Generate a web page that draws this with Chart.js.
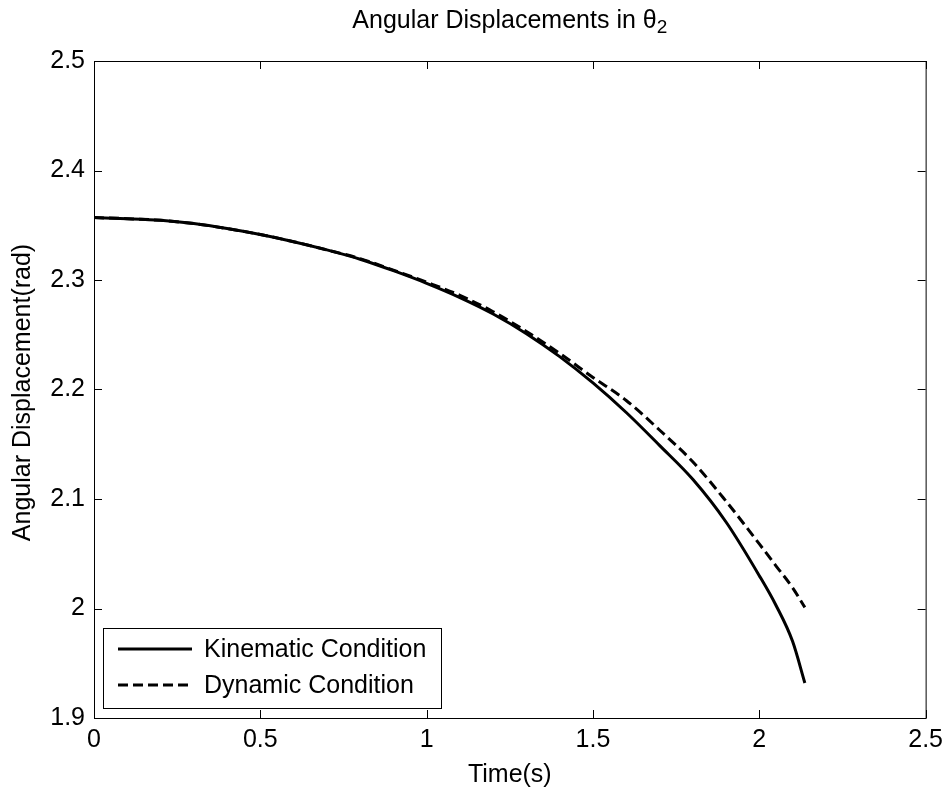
<!DOCTYPE html>
<html>
<head>
<meta charset="utf-8">
<script src="https://cdn.jsdelivr.net/npm/chart.js@4"></script>
<style>
  html, body { margin: 0; padding: 0; background: #fff; }
  #wrap { width: 950px; height: 792px; }
</style>
</head>
<body>
<div id="wrap"><canvas id="chart" width="950" height="792"></canvas></div>
<script>
// data ----------------------------------------------------------------------/
const time       = [0, 0.1, 0.2, 0.3, 0.4, 0.5, 0.6, 0.7, 0.8, 0.9, 1.0, 1.1, 1.2, 1.3, 1.4, 1.5, 1.6, 1.7, 1.8, 1.9, 2.0, 2.05, 2.1, 2.137];
const kinematic  = [2.357, 2.356, 2.3545, 2.3515, 2.347, 2.3415, 2.335, 2.3275, 2.319, 2.3085, 2.297, 2.284, 2.269, 2.251, 2.230, 2.206, 2.179, 2.149, 2.118, 2.079, 2.030, 2.003, 1.970, 1.932];
const dynamic    = [2.357, 2.356, 2.3545, 2.3515, 2.347, 2.3415, 2.335, 2.3275, 2.3195, 2.309, 2.298, 2.286, 2.271, 2.253, 2.233, 2.211, 2.190, 2.163, 2.134, 2.098, 2.059, 2.039, 2.019, 2.001];
const seriesNames = ['Kinematic Condition', 'Dynamic Condition'];
const xTicks = [0, 0.5, 1, 1.5, 2, 2.5];
const yTicks = [1.9, 2.0, 2.1, 2.2, 2.3, 2.4, 2.5];

const FONT = '"Liberation Sans", Arial, sans-serif';

function toPoints(xs, ys) {
	return xs.map(function (x, i) { return { x: x, y: ys[i] }; });
}

// axes box, inward ticks, title, axis labels and legend drawn the MATLAB way
const matlabFrame = {
	id: 'matlabFrame',
	afterDatasetsDraw(chart) {
		const ctx = chart.ctx;
		const a = chart.chartArea;
		const xs = chart.scales.x;
		const ys = chart.scales.y;
		const tl = 8;

		ctx.save();
		ctx.strokeStyle = '#000';
		ctx.lineWidth = 1;
		ctx.strokeRect(a.left + 0.5, a.top + 0.5, a.right - a.left, a.bottom - a.top);

		ctx.beginPath();
		xTicks.forEach(function (v) {
			const px = Math.round(xs.getPixelForValue(v)) + 0.5;
			ctx.moveTo(px, a.bottom); ctx.lineTo(px, a.bottom - tl);
			ctx.moveTo(px, a.top); ctx.lineTo(px, a.top + tl);
		});
		yTicks.forEach(function (v) {
			const py = Math.round(ys.getPixelForValue(v)) + 0.5;
			ctx.moveTo(a.left, py); ctx.lineTo(a.left + tl, py);
			ctx.moveTo(a.right, py); ctx.lineTo(a.right - tl, py);
		});
		ctx.stroke();

		// title with subscript
		ctx.fillStyle = '#000';
		ctx.textBaseline = 'alphabetic';
		const main = 'Angular Displacements in \u03B8';
		ctx.font = '25px ' + FONT;
		const w1 = ctx.measureText(main).width;
		ctx.font = '19px ' + FONT;
		const w2 = ctx.measureText('2').width;
		const cx = (a.left + a.right) / 2;
		const tx = cx - (w1 + w2) / 2;
		ctx.font = '25px ' + FONT;
		ctx.textAlign = 'left';
		ctx.fillText(main, tx, 28);
		ctx.font = '19px ' + FONT;
		ctx.fillText('2', tx + w1, 33);

		// y axis label
		ctx.save();
		ctx.translate(30, (a.top + a.bottom) / 2 + 3);
		ctx.rotate(-Math.PI / 2);
		ctx.textAlign = 'center';
		ctx.font = '25px ' + FONT;
		ctx.fillText('Angular Displacement(rad)', 0, 0);
		ctx.restore();

		// x axis label
		ctx.textAlign = 'center';
		ctx.font = '25px ' + FONT;
		ctx.fillText('Time(s)', cx, 782);

		// legend box
		const lx = 103, ly = a.bottom - 90, lw = 338, lh = 80;
		ctx.fillStyle = '#fff';
		ctx.fillRect(lx, ly, lw, lh);
		ctx.strokeStyle = '#000';
		ctx.lineWidth = 1;
		ctx.strokeRect(lx + 0.5, ly + 0.5, lw, lh);
		chart.data.datasets.forEach(function (ds, i) {
			const yy = ly + 21 + i * 36;
			ctx.beginPath();
			ctx.lineWidth = ds.borderWidth;
			ctx.setLineDash(ds.borderDash || []);
			ctx.moveTo(lx + 15, yy);
			ctx.lineTo(lx + 89, yy);
			ctx.stroke();
			ctx.setLineDash([]);
			ctx.fillStyle = '#000';
			ctx.textAlign = 'left';
			ctx.textBaseline = 'middle';
			ctx.font = '25px ' + FONT;
			ctx.fillText(ds.label, lx + 101, yy + 1);
		});
		ctx.restore();
	}
};

const ctx = document.getElementById('chart').getContext('2d');
new Chart(ctx, {
	type: 'line',
	data: {
		datasets: [{
			label: seriesNames[0],
			data: toPoints(time, kinematic),
			borderColor: '#000',
			borderWidth: 3,
			pointRadius: 0,
			cubicInterpolationMode: 'monotone',
			fill: false
		}, {
			label: seriesNames[1],
			data: toPoints(time, dynamic),
			borderColor: '#000',
			borderWidth: 3,
			borderDash: [10, 5],
			pointRadius: 0,
			cubicInterpolationMode: 'monotone',
			fill: false
		}]
	},
	options: {
		responsive: false,
		animation: false,
		layout: { padding: { left: 0, top: 61, right: 21, bottom: 0 } },
		plugins: {
			legend: { display: false },
			title: { display: false },
			tooltip: { enabled: false }
		},
		scales: {
			x: {
				type: 'linear',
				min: 0,
				max: 2.5,
				afterBuildTicks: function (scale) {
					scale.ticks = xTicks.map(function (v) { return { value: v }; });
				},
				afterFit: function (scale) { scale.height = 74; },
				grid: { display: false, drawTicks: false },
				border: { display: false },
				ticks: {
					color: '#000',
					padding: 7,
					maxRotation: 0,
					font: { family: FONT, size: 25 },
					callback: function (v) { return String(+Number(v).toFixed(1)); }
				}
			},
			y: {
				type: 'linear',
				min: 1.9,
				max: 2.5,
				afterBuildTicks: function (scale) {
					scale.ticks = yTicks.map(function (v) { return { value: v }; });
				},
				afterFit: function (scale) { scale.width = 94; },
				grid: { display: false, drawTicks: false },
				border: { display: false },
				ticks: {
					color: '#000',
					padding: 9,
					font: { family: FONT, size: 25 },
					callback: function (v) { return String(+Number(v).toFixed(1)); }
				}
			}
		}
	},
	plugins: [matlabFrame]
});
</script>
</body>
</html>
